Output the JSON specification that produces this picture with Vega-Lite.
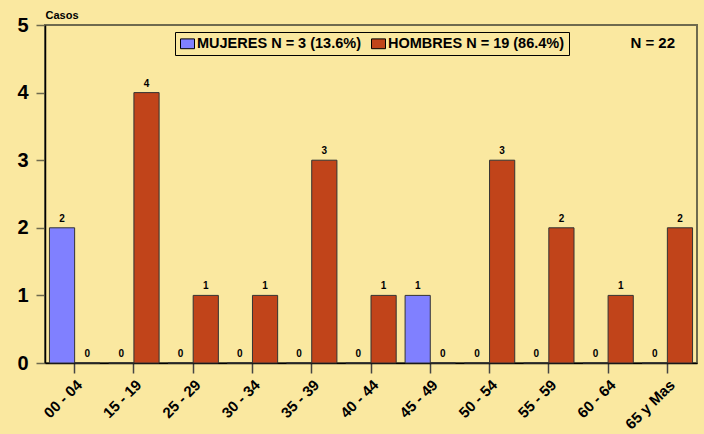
{
  "$schema": "https://vega.github.io/schema/vega-lite/v6.json",
  "width": 652,
  "height": 338,
  "autosize": "none",
  "padding": {"left": 45, "top": 25, "right": 7, "bottom": 71},
  "background": "#FAE8A0",
  "config": {
    "font": "Liberation Sans",
    "view": {"stroke": "#6E6A4E", "strokeWidth": 2, "fill": "#FAE8A0"}
  },
  "title": {
    "text": "N = 22",
    "anchor": "end",
    "orient": "top",
    "offset": -42,
    "dx": -22,
    "fontSize": 15,
    "fontWeight": "bold",
    "color": "#000000",
    "font": "Liberation Sans"
  },
  "data": {
    "values": [
      {"grupo": "00 - 04", "sexo": "MUJERES", "casos": 2},
      {"grupo": "00 - 04", "sexo": "HOMBRES", "casos": 0},
      {"grupo": "15 - 19", "sexo": "MUJERES", "casos": 0},
      {"grupo": "15 - 19", "sexo": "HOMBRES", "casos": 4},
      {"grupo": "25 - 29", "sexo": "MUJERES", "casos": 0},
      {"grupo": "25 - 29", "sexo": "HOMBRES", "casos": 1},
      {"grupo": "30 - 34", "sexo": "MUJERES", "casos": 0},
      {"grupo": "30 - 34", "sexo": "HOMBRES", "casos": 1},
      {"grupo": "35 - 39", "sexo": "MUJERES", "casos": 0},
      {"grupo": "35 - 39", "sexo": "HOMBRES", "casos": 3},
      {"grupo": "40 - 44", "sexo": "MUJERES", "casos": 0},
      {"grupo": "40 - 44", "sexo": "HOMBRES", "casos": 1},
      {"grupo": "45 - 49", "sexo": "MUJERES", "casos": 1},
      {"grupo": "45 - 49", "sexo": "HOMBRES", "casos": 0},
      {"grupo": "50 - 54", "sexo": "MUJERES", "casos": 0},
      {"grupo": "50 - 54", "sexo": "HOMBRES", "casos": 3},
      {"grupo": "55 - 59", "sexo": "MUJERES", "casos": 0},
      {"grupo": "55 - 59", "sexo": "HOMBRES", "casos": 2},
      {"grupo": "60 - 64", "sexo": "MUJERES", "casos": 0},
      {"grupo": "60 - 64", "sexo": "HOMBRES", "casos": 1},
      {"grupo": "65 y Mas", "sexo": "MUJERES", "casos": 0},
      {"grupo": "65 y Mas", "sexo": "HOMBRES", "casos": 2}
    ]
  },
  "encoding": {
    "x": {
      "field": "grupo",
      "type": "nominal",
      "sort": null,
      "scale": {"paddingInner": 0.15, "paddingOuter": 0.075},
      "axis": {
        "title": null,
        "labelAngle": -45,
        "labelAlign": "right",
        "labelBaseline": "top",
        "labelFontSize": 15,
        "labelFontWeight": "bold",
        "labelColor": "#000000",
        "labelPadding": 4,
        "labelFont": "Liberation Sans",
        "tickSize": 10,
        "tickColor": "#444444",
        "tickWidth": 1.5,
        "domainColor": "#000000",
        "domainWidth": 1.5
      }
    },
    "xOffset": {
      "field": "sexo",
      "type": "nominal",
      "sort": ["MUJERES", "HOMBRES"],
      "scale": {"paddingInner": 0, "paddingOuter": 0}
    },
    "y": {
      "field": "casos",
      "type": "quantitative",
      "scale": {"domain": [0, 5], "nice": false},
      "axis": {
        "values": [0, 1, 2, 3, 4, 5],
        "grid": false,
        "title": "Casos",
        "titleAngle": 0,
        "titleX": 0,
        "titleY": -7,
        "titleAlign": "left",
        "titleBaseline": "alphabetic",
        "titleFontSize": 11,
        "titleFontWeight": "bold",
        "titleFont": "Liberation Sans",
        "titleColor": "#000000",
        "labelFontSize": 20,
        "labelFontWeight": "bold",
        "labelFont": "Liberation Sans",
        "labelColor": "#000000",
        "labelPadding": 8,
        "tickSize": 9,
        "tickColor": "#6E6A4E",
        "tickWidth": 1.5,
        "domainColor": "#000000",
        "domainWidth": 1.5
      }
    }
  },
  "layer": [
    {
      "mark": {"type": "bar", "stroke": "#333333", "strokeWidth": 1},
      "encoding": {
        "color": {
          "field": "sexo",
          "type": "nominal",
          "sort": ["MUJERES", "HOMBRES"],
          "scale": {"domain": ["MUJERES", "HOMBRES"], "range": ["#8080FF", "#C1441A"]},
          "legend": {
            "title": null,
            "orient": "none",
            "legendX": 130,
            "legendY": 7,
            "direction": "horizontal",
            "strokeColor": "#000000",
            "fillColor": "#FAE8A0",
            "padding": 4,
            "columnPadding": 8,
            "symbolType": "M-1,-0.7H1V0.7H-1Z",
            "symbolSize": 196,
            "symbolStrokeColor": "#000000",
            "symbolStrokeWidth": 1,
            "symbolOpacity": 1,
            "symbolOffset": 1,
            "labelOffset": 2,
            "labelFontSize": 14.5,
            "labelFontWeight": "bold",
            "labelFont": "Liberation Sans",
            "labelColor": "#000000",
            "labelLimit": 300,
            "labelExpr": "datum.value == 'MUJERES' ? 'MUJERES N = 3 (13.6%)' : 'HOMBRES N = 19 (86.4%)'"
          }
        }
      }
    },
    {
      "mark": {
        "type": "text",
        "baseline": "bottom",
        "dy": -4,
        "fontSize": 10,
        "fontWeight": "bold",
        "font": "Liberation Sans",
        "color": "#000000"
      },
      "encoding": {
        "text": {"field": "casos", "type": "quantitative"}
      }
    }
  ]
}
